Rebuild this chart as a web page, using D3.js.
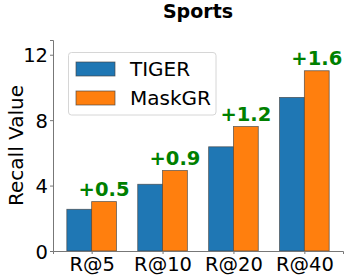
<!DOCTYPE html>
<html>
<head>
<meta charset="utf-8">
<script src="https://cdn.jsdelivr.net/npm/d3@7"></script>
<style>
  body { margin: 0; background: #fff; }
  text { font-family: "DejaVu Sans", sans-serif; }
</style>
</head>
<body>
<svg width="349" height="279"></svg>
<script>
var width = 349;
var height = 279;

var categories = ["R@5", "R@10", "R@20", "R@40"];
var tigerValues = [2.55, 4.08, 6.37, 9.39];
var maskgrValues = [3.02, 4.92, 7.61, 11.02];
var gainLabels = ["+0.5", "+0.9", "+1.2", "+1.6"];
var yTicks = [0, 4, 8, 12];
var seriesNames = ["TIGER", "MaskGR"];
var seriesColors = ["#1f77b4", "#ff7f0e"];

var plot = { left: 53, right: 343, top: 40, bottom: 251 };
var barWidth = 0.35;

var svg = d3.select("svg");

var xScale = d3.scaleLinear()
  .domain([-0.545, categories.length - 1 + 0.545])
  .range([plot.left, plot.right]);
var yScale = d3.scaleLinear()
  .domain([0, 12.9])
  .range([plot.bottom, plot.top]);

// bars
var series = [tigerValues, maskgrValues];
series.forEach(function (vals, s) {
  svg.append("g")
    .selectAll("rect")
    .data(vals)
    .enter()
    .append("rect")
    .attr("x", (d, i) => xScale(i + (s === 0 ? -barWidth : 0)))
    .attr("width", xScale(barWidth) - xScale(0))
    .attr("y", (d) => yScale(d))
    .attr("height", (d) => yScale(0) - yScale(d))
    .attr("fill", seriesColors[s])
    .attr("stroke", "#444")
    .attr("stroke-opacity", 0.8)
    .attr("stroke-width", 0.8);
});

// gain labels over the MaskGR bars
svg.append("g")
  .selectAll("text")
  .data(maskgrValues)
  .enter()
  .append("text")
  .attr("x", (d, i) => xScale(i + barWidth / 2))
  .attr("y", (d) => yScale(d) - 6)
  .attr("text-anchor", "middle")
  .attr("font-size", 19.5)
  .attr("font-weight", "bold")
  .attr("fill", "#008000")
  .text((d, i) => gainLabels[i]);

// axes
var yAxis = d3.axisLeft(yScale).tickValues(yTicks).tickSize(3).tickPadding(2);
var gy = svg.append("g")
  .attr("transform", `translate(${plot.left}, 0)`)
  .call(yAxis);

var xAxis = d3.axisBottom(xScale)
  .tickValues(d3.range(categories.length))
  .tickFormat((d) => categories[d])
  .tickSize(3)
  .tickPadding(2);
var gx = svg.append("g")
  .attr("transform", `translate(0, ${plot.bottom})`)
  .call(xAxis);

[gx, gy].forEach(function (g) {
  g.select(".domain").attr("stroke", "#777").attr("stroke-width", 1);
  g.selectAll(".tick line").attr("stroke", "#777");
  g.selectAll(".tick text")
    .attr("font-size", 19.5)
    .attr("fill", "#000")
    .attr("font-family", "DejaVu Sans, sans-serif");
});
gy.selectAll(".tick text").attr("dy", "0.36em");
gx.selectAll(".tick text").attr("dy", "0.78em");

// title
svg.append("text")
  .attr("x", (plot.left + plot.right) / 2)
  .attr("y", 18)
  .attr("text-anchor", "middle")
  .attr("font-size", 19)
  .attr("font-weight", "bold")
  .text("Sports");

// y label
svg.append("text")
  .attr("transform", `translate(23, ${(plot.top + plot.bottom) / 2}) rotate(-90)`)
  .attr("text-anchor", "middle")
  .attr("font-size", 20)
  .text("Recall Value");

// legend
var legend = svg.append("g");
legend.append("rect")
  .attr("x", 68.5)
  .attr("y", 52.5)
  .attr("width", 147.5)
  .attr("height", 62.5)
  .attr("rx", 3)
  .attr("fill", "#fff")
  .attr("fill-opacity", 0.8)
  .attr("stroke", "#d6d6d6");
seriesNames.forEach(function (name, i) {
  var y0 = 62 + i * 29;
  legend.append("rect")
    .attr("x", 76)
    .attr("y", y0)
    .attr("width", 39)
    .attr("height", 14)
    .attr("fill", seriesColors[i])
    .attr("stroke", "#444")
    .attr("stroke-opacity", 0.8)
    .attr("stroke-width", 0.8);
  legend.append("text")
    .attr("x", 130)
    .attr("y", y0 + 14)
    .attr("font-size", 20)
    .text(name);
});
</script>
</body>
</html>
